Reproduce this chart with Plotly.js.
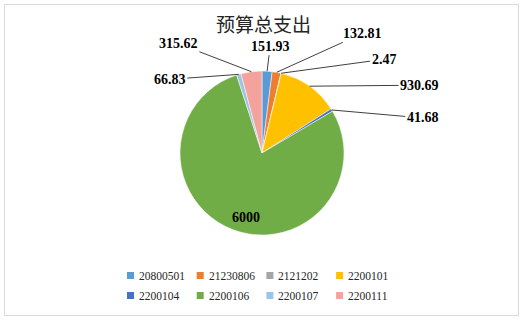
<!DOCTYPE html>
<html><head><meta charset="utf-8">
<script src="https://cdn.plot.ly/plotly-3.0.1.min.js"></script>
<style>html,body{margin:0;padding:0;background:#fff;}#chart{width:527px;height:320px;}</style>
</head><body><div id="chart"></div>
<script>
const categories = ['20800501','21230806','2121202','2200101','2200104','2200106','2200107','2200111'];
const values = [151.93, 132.81, 2.47, 930.69, 41.68, 6000, 66.83, 315.62];
const valueLabels = ['151.93','132.81','2.47','930.69','41.68','6000','66.83','315.62'];
const colors = ['#5B9BD5','#ED7D31','#A5A5A5','#FFC000','#4472C4','#70AD47','#9DC3E6','#F4A29C'];
// label offsets (pixels) from the slice edge; inside label uses shift from 0.8r point
const labelOffsets = [[3,-25],[86,-39],[103,-14],[110,-1],[91,8],null,[-69,5],[-73,-28]];

const W = 527, H = 320;
const domX = [180/W, 344/W], domY = [1-235/H, 1-71/H];
const cx = (domX[0]+domX[1])/2, cy = (domY[0]+domY[1])/2;
const rPx = Math.min((domX[1]-domX[0])*W, (domY[1]-domY[0])*H)/2;

const total = values.reduce((a,b)=>a+b,0);
let cum = 0;
const annotations = [];
const shapes = [{type:'rect', xref:'paper', yref:'paper', x0:4.5/W, x1:518.5/W, y0:1-315.5/H, y1:1-4.5/H,
    line:{color:'#D9D9D9', width:1}}];
values.forEach((v,i)=>{
  const mid = (cum + v/2)/total*2*Math.PI;
  cum += v;
  const off = labelOffsets[i];
  const f = off ? 1 : 0.8;
  const px = cx + f*rPx*Math.sin(mid)/W;
  const py = cy + f*rPx*Math.cos(mid)/H;
  const a = {x:px, y:py, xref:'paper', yref:'paper', text:'<b>'+valueLabels[i]+'</b>',
    font:{family:'Liberation Serif', size:14, color:'#000'}};
  if (off) {
    Object.assign(a,{showarrow:true, arrowhead:0, arrowwidth:1, arrowcolor:'#404040', ax:off[0], ay:off[1], standoff:0});
  } else {
    Object.assign(a,{showarrow:false, xshift:7, yshift:-13});
  }
  annotations.push(a);
});

// legend (2 rows x 4 columns)
categories.forEach((c,i)=>{
  const col = i%4, row = Math.floor(i/4);
  const left = 127 + col*69.7, yc = 275.5 + row*20;
  shapes.push({type:'rect', xref:'paper', yref:'paper', x0:left/W, x1:(left+7)/W,
    y0:1-(yc+3.5)/H, y1:1-(yc-3.5)/H, fillcolor:colors[i], line:{width:0}});
  annotations.push({x:(left+10)/W, y:1-yc/H, xref:'paper', yref:'paper', xanchor:'left', yanchor:'middle',
    showarrow:false, text:c, font:{family:'Liberation Serif', size:11.5, color:'#262626'}});
});

const trace = {
  type:'pie', labels:categories, values:values, sort:false, direction:'clockwise', rotation:0,
  marker:{colors:colors, line:{color:'#ffffff', width:0.5}},
  textinfo:'none', hoverinfo:'none', showlegend:false,
  domain:{x:domX, y:domY}
};
const layout = {
  width:W, height:H, margin:{l:0,r:0,t:0,b:0}, paper_bgcolor:'#fff',
  title:{text:'预算总支出', x:0.5, xanchor:'center', y:1-25/H, yanchor:'middle',
    font:{family:'Noto Sans CJK SC', size:19, color:'#262626'}},
  showlegend:false,
  annotations:annotations,
  shapes:shapes
};
Plotly.newPlot('chart',[trace],layout,{staticPlot:true});
</script></body></html>
